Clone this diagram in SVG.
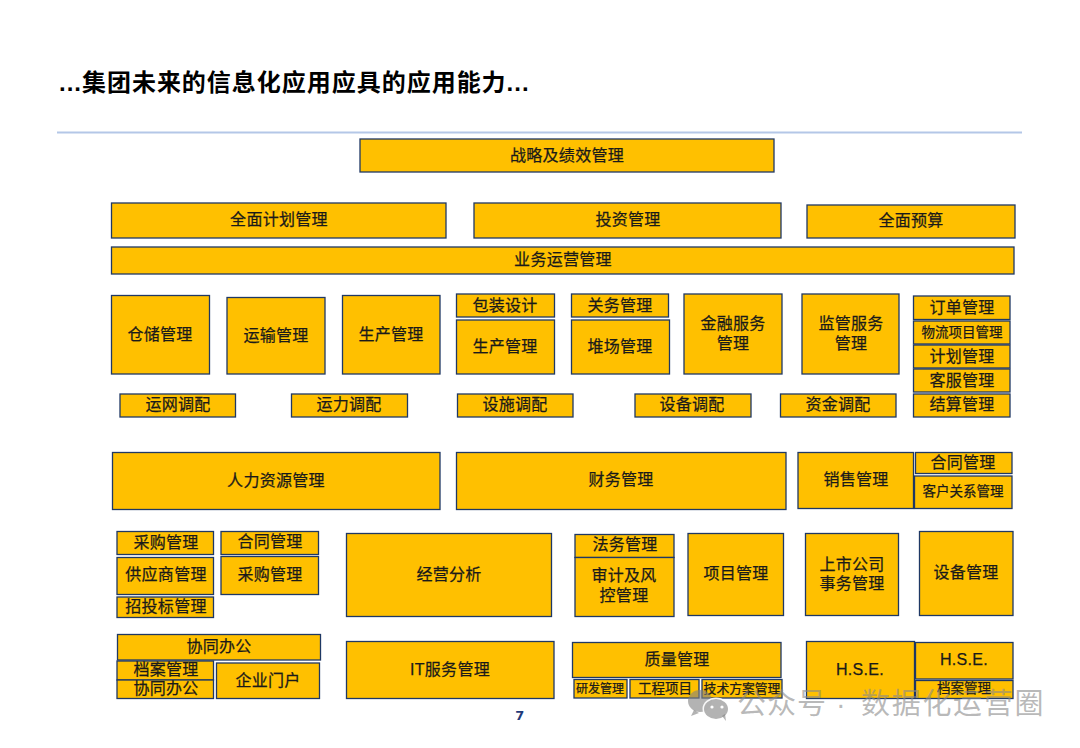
<svg xmlns="http://www.w3.org/2000/svg" width="1080" height="748" viewBox="0 0 1080 748">
<style>
text{font-family:"Liberation Sans","Noto Sans CJK SC",sans-serif;fill:#1a1a1a;stroke:#1a1a1a;stroke-width:.25;text-anchor:middle;dominant-baseline:central;font-size:16px;letter-spacing:.3px}
.b{fill:#ffc000;stroke:#1f3864;stroke-width:1.3}
.s{font-size:13.5px;letter-spacing:0}
.xs{font-size:12px;letter-spacing:0}
.m{font-size:12.8px;letter-spacing:0}
.title{font-size:24px;font-weight:bold;text-anchor:start;fill:#000;stroke:none;letter-spacing:.98px}
.wm{font-size:29px;text-anchor:start;fill:#8a8a8a;fill-opacity:.6;stroke:none}
.wi{fill:#808080;fill-opacity:.6}
</style>
<rect width="1080" height="748" fill="#fff"/>
<text class="title" x="59" y="82">...集团未来的信息化应用应具的应用能力...</text>
<line x1="57" y1="132.500" x2="1022" y2="132.500" stroke="#b4c7e7" stroke-width="2"/>
<g id="connectors"></g>
<g id="n1"><rect class="b" x="360" y="139" width="414" height="33"/><text x="567" y="155">战略及绩效管理</text></g>
<g id="n2"><rect class="b" x="111.500" y="203" width="334.500" height="35"/><text x="279" y="219">全面计划管理</text></g>
<g id="n3"><rect class="b" x="474" y="203" width="307" height="35"/><text x="628" y="219">投资管理</text></g>
<g id="n4"><rect class="b" x="807" y="205" width="208" height="33"/><text x="911" y="220">全面预算</text></g>
<g id="n5"><rect class="b" x="111.500" y="247" width="902.500" height="27"/><text x="563" y="259">业务运营管理</text></g>
<g id="n6"><rect class="b" x="111.500" y="295.500" width="98" height="78.500"/><text x="160" y="334">仓储管理</text></g>
<g id="n7"><rect class="b" x="227" y="297.500" width="98" height="76.500"/><text x="276" y="335">运输管理</text></g>
<g id="n8"><rect class="b" x="342.500" y="295.500" width="97.500" height="78.500"/><text x="391" y="334">生产管理</text></g>
<g id="n9"><rect class="b" x="456.500" y="294" width="98" height="23"/><text x="505" y="305">包装设计</text></g>
<g id="n10"><rect class="b" x="456.500" y="320" width="98" height="54"/><text x="505" y="346">生产管理</text></g>
<g id="n11"><rect class="b" x="571.500" y="294" width="97" height="23"/><text x="620" y="305">关务管理</text></g>
<g id="n12"><rect class="b" x="571.500" y="320" width="98" height="54"/><text x="620" y="346">堆场管理</text></g>
<g id="n13"><rect class="b" x="684" y="294" width="98" height="80"/><text x="733" y="323">金融服务</text><text x="733" y="343">管理</text></g>
<g id="n14"><rect class="b" x="802" y="294" width="97" height="80"/><text x="851" y="323">监管服务</text><text x="851" y="343">管理</text></g>
<g id="n15"><rect class="b" x="913.500" y="296" width="96.500" height="23.500"/><text x="962" y="307">订单管理</text></g>
<g id="n16"><rect class="b" x="913.500" y="321" width="96.500" height="23"/><text class="s" x="962" y="332">物流项目管理</text></g>
<g id="n17"><rect class="b" x="913.500" y="345" width="96.500" height="23"/><text x="962" y="356">计划管理</text></g>
<g id="n18"><rect class="b" x="913.500" y="369" width="96.500" height="23"/><text x="962" y="380">客服管理</text></g>
<g id="n19"><rect class="b" x="913.500" y="394" width="96.500" height="23"/><text x="962" y="404">结算管理</text></g>
<g id="n20"><rect class="b" x="120" y="394" width="115.500" height="23"/><text x="178" y="404.500">运网调配</text></g>
<g id="n21"><rect class="b" x="291.500" y="394" width="116" height="23"/><text x="349" y="404.500">运力调配</text></g>
<g id="n22"><rect class="b" x="457.500" y="394" width="115.500" height="23"/><text x="515" y="404.500">设施调配</text></g>
<g id="n23"><rect class="b" x="635" y="394" width="116" height="23"/><text x="692" y="404.500">设备调配</text></g>
<g id="n24"><rect class="b" x="780.500" y="394" width="115.500" height="23"/><text x="838" y="404.500">资金调配</text></g>
<g id="n25"><rect class="b" x="112.500" y="452.500" width="327.500" height="57"/><text x="276" y="480">人力资源管理</text></g>
<g id="n26"><rect class="b" x="456.500" y="452.500" width="329.500" height="57"/><text x="621" y="479">财务管理</text></g>
<g id="n27"><rect class="b" x="798" y="452.500" width="115.500" height="56"/><text x="856" y="479">销售管理</text></g>
<g id="n28"><rect class="b" x="915.500" y="452.500" width="96.500" height="21"/><text x="963" y="462">合同管理</text></g>
<g id="n29"><rect class="b" x="914.500" y="476" width="97.500" height="32.500"/><text class="s" x="963" y="491">客户关系管理</text></g>
<g id="n30"><rect class="b" x="117" y="531.500" width="96.500" height="23"/><text x="166" y="542">采购管理</text></g>
<g id="n31"><rect class="b" x="117" y="557.500" width="96.500" height="37"/><text x="166" y="574.500">供应商管理</text></g>
<g id="n32"><rect class="b" x="117" y="597" width="96.500" height="20.500"/><text x="166" y="606">招投标管理</text></g>
<g id="n33"><rect class="b" x="221" y="531.500" width="97.500" height="23"/><text x="270" y="541.500">合同管理</text></g>
<g id="n34"><rect class="b" x="221" y="556.500" width="97.500" height="38"/><text x="270" y="574">采购管理</text></g>
<g id="n35"><rect class="b" x="346.500" y="533.500" width="205" height="83"/><text x="449" y="574">经营分析</text></g>
<g id="n36"><rect class="b" x="117.500" y="634.500" width="203" height="25.500"/><text x="219" y="646">协同办公</text></g>
<g id="n37"><rect class="b" x="117" y="661" width="96.500" height="19"/><text x="166" y="669.500">档案管理</text></g>
<g id="n38"><rect class="b" x="117" y="680" width="96.500" height="18.500"/><text x="166" y="688.500">协同办公</text></g>
<g id="n39"><rect class="b" x="216.500" y="663" width="103" height="35.500"/><text x="268" y="680">企业门户</text></g>
<g id="n40"><rect class="b" x="346.500" y="641.500" width="207.500" height="57"/><text x="450" y="669">IT服务管理</text></g>
<g id="n41"><rect class="b" x="575" y="534.500" width="99" height="23"/><text x="625" y="544.500">法务管理</text></g>
<g id="n42"><rect class="b" x="575" y="557.500" width="99" height="59"/><text x="624" y="575">审计及风</text><text x="624" y="595">控管理</text></g>
<g id="n43"><rect class="b" x="688" y="533.500" width="95.500" height="82"/><text x="736" y="573">项目管理</text></g>
<g id="n44"><rect class="b" x="805.500" y="533.500" width="93" height="82"/><text x="852" y="564">上市公司</text><text x="852" y="583">事务管理</text></g>
<g id="n45"><rect class="b" x="919.500" y="531.500" width="93.500" height="84"/><text x="966" y="572">设备管理</text></g>
<g id="n46"><rect class="b" x="572.500" y="642.500" width="208.500" height="35"/><text x="677" y="659">质量管理</text></g>
<g id="n47"><rect class="b" x="574" y="679.500" width="53" height="18.500"/><text class="xs" x="600" y="688.500">研发管理</text></g>
<g id="n48"><rect class="b" x="630" y="679.500" width="69" height="18.500"/><text class="s" x="665" y="688.500">工程项目</text></g>
<g id="n49"><rect class="b" x="702" y="679.500" width="80" height="18.500"/><text class="m" x="742" y="688.500">技术方案管理</text></g>
<g id="n50"><rect class="b" x="806.500" y="641.500" width="108" height="57"/><text x="860" y="669.500">H.S.E.</text></g>
<g id="n51"><rect class="b" x="915.500" y="642.500" width="97.500" height="36.500"/><text x="964" y="659">H.S.E.</text></g>
<g id="n52"><rect class="b" x="915.500" y="680.500" width="97.500" height="18"/><text class="s" x="964" y="688.500">档案管理</text></g>
<text x="520" y="715" style="font-family:'DejaVu Sans',sans-serif;font-size:13px;font-weight:bold;fill:#1f3a7a;stroke:none">7</text>
<g id="watermark">
<ellipse class="wi" cx="700" cy="701" rx="12" ry="11"/>
<path class="wi" d="M694 710l-3 6 8-3z"/>
<ellipse cx="716" cy="709" rx="13.500" ry="11.500" fill="#fff" fill-opacity=".9"/>
<ellipse class="wi" cx="716" cy="709" rx="12" ry="10"/>
<path class="wi" d="M722 716l4 5-1-7z"/>
<circle cx="712" cy="707" r="1.600" fill="#fff"/>
<circle cx="722" cy="707" r="1.600" fill="#fff"/>
<text class="wm" x="737" y="704" style="letter-spacing:1px">公众号</text>
<text class="wm" x="836" y="704">·</text>
<text class="wm" x="861" y="704" style="letter-spacing:1.700px">数据化运营圈</text>
</g>
</svg>
